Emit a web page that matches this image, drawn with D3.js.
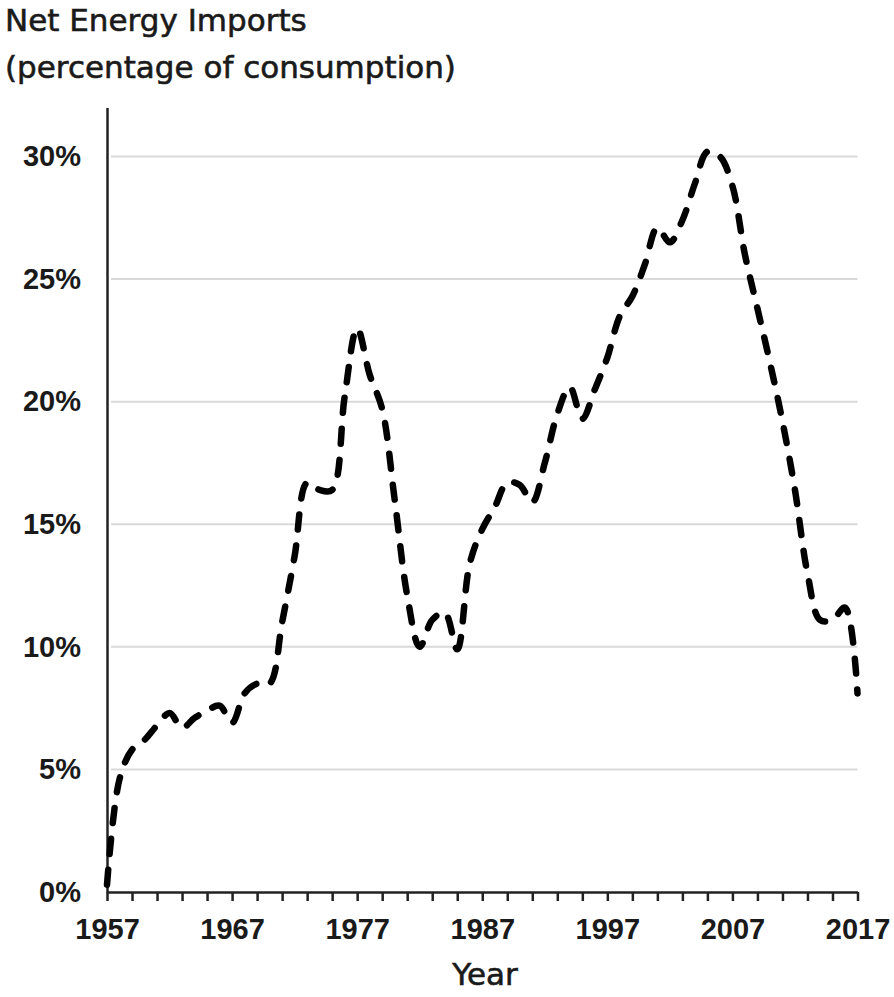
<!DOCTYPE html>
<html>
<head>
<meta charset="utf-8">
<script src="https://cdn.jsdelivr.net/npm/d3@7"></script>
<style>
  body { margin: 0; background: #fff; }
  .title, .axis-title { font-family: "DejaVu Sans", sans-serif; font-size: 31px; fill: #1a1a1a; stroke: #1a1a1a; stroke-width: 0.6px; }
  .tick text { font-family: "Liberation Sans", Arial, sans-serif; font-weight: bold; font-size: 29px; fill: #1a1a1a; }
</style>
</head>
<body>
<div id="chart"></div>
<script>
// data
var years = [1957, 1958, 1959, 1960, 1961, 1962, 1963, 1964, 1965, 1966,
  1967, 1968, 1969, 1970, 1971, 1972, 1973, 1974, 1975, 1976,
  1977, 1978, 1979, 1980, 1981, 1982, 1983, 1984, 1985, 1986,
  1987, 1988, 1989, 1990, 1991, 1992, 1993, 1994, 1995, 1996,
  1997, 1998, 1999, 2000, 2001, 2002, 2003, 2004, 2005, 2006,
  2007, 2008, 2009, 2010, 2011, 2012, 2013, 2014, 2015, 2016, 2017]
var netImports = [0.3, 4.6, 5.8, 6.2, 6.8, 7.3, 6.7, 7.1, 7.4, 7.6,
  6.9, 8.1, 8.5, 8.5, 11.0, 13.7, 16.7, 16.4, 16.4, 20.2,
  23.0, 21.1, 19.7, 16.0, 12.1, 10.0, 11.1, 11.4, 9.9, 13.4,
  14.8, 15.7, 16.7, 16.6, 15.9, 17.5, 19.5, 20.6, 19.3, 20.5,
  21.8, 23.5, 24.3, 25.6, 27.1, 26.5, 27.4, 28.9, 30.2, 30.0,
  28.8, 26.0, 23.8, 21.6, 19.2, 16.4, 13.0, 11.1, 11.1, 11.6, 8.1]
var yTicks = [0, 5, 10, 15, 20, 25, 30]
var xTicks = [1957, 1959, 1961, 1963, 1965, 1967, 1969, 1971, 1973, 1975,
  1977, 1979, 1981, 1983, 1985, 1987, 1989, 1991, 1993, 1995,
  1997, 1999, 2001, 2003, 2005, 2007, 2009, 2011, 2013, 2015, 2017]
var xLabels = [1957, 1967, 1977, 1987, 1997, 2007, 2017]

var width = 894, height = 997

var svg = d3.select("#chart")
  .append("svg")
  .attr("width", width)
  .attr("height", height)

var x = d3.scaleLinear().domain([1957, 2017]).range([107, 857.5])
var y = d3.scaleLinear().domain([0, 32]).range([892, 107.5])

// gridlines
svg.append("g")
  .selectAll("line")
  .data(yTicks.filter(function (d) { return d > 0 }))
  .enter()
  .append("line")
  .attr("x1", 111)
  .attr("x2", x(2017))
  .attr("y1", function (d) { return y(d) })
  .attr("y2", function (d) { return y(d) })
  .attr("stroke", "#d9d9d9")
  .attr("stroke-width", 2)

// y axis
var yAxis = svg.append("g")
  .attr("transform", "translate(" + x(1957) + ",0)")
  .call(d3.axisLeft(y)
    .tickValues(yTicks)
    .tickSize(0)
    .tickSizeOuter(0)
    .tickPadding(26)
    .tickFormat(function (d) { return d + "%" }))
yAxis.select(".domain").attr("stroke", "#222").attr("stroke-width", 2.5)

// x axis
var xAxis = svg.append("g")
  .attr("transform", "translate(0," + y(0) + ")")
  .call(d3.axisBottom(x)
    .tickValues(xTicks)
    .tickSize(9)
    .tickSizeOuter(0)
    .tickPadding(17)
    .tickFormat(function (d) { return xLabels.indexOf(d) >= 0 ? d : "" }))
xAxis.select(".domain").attr("stroke", "#222").attr("stroke-width", 2.5)
xAxis.selectAll(".tick line").attr("stroke", "#222").attr("stroke-width", 2.5)

// the line
var line = d3.line()
  .x(function (d, i) { return x(years[i]) })
  .y(function (d) { return y(d) })
  .curve(d3.curveCatmullRom.alpha(0.5))

svg.append("path")
  .datum(netImports)
  .attr("d", line)
  .attr("fill", "none")
  .attr("stroke", "#000")
  .attr("stroke-width", 6.5)
  .attr("stroke-dasharray", "15,16")
  .attr("stroke-linecap", "round")
  .attr("stroke-linejoin", "round")

// titles
svg.append("text").attr("class", "title").attr("x", 5).attr("y", 31).text("Net Energy Imports")
svg.append("text").attr("class", "title").attr("x", 5).attr("y", 78).text("(percentage of consumption)")
svg.append("text").attr("class", "axis-title").attr("x", 485).attr("y", 985)
  .attr("text-anchor", "middle").text("Year")
</script>
</body>
</html>
